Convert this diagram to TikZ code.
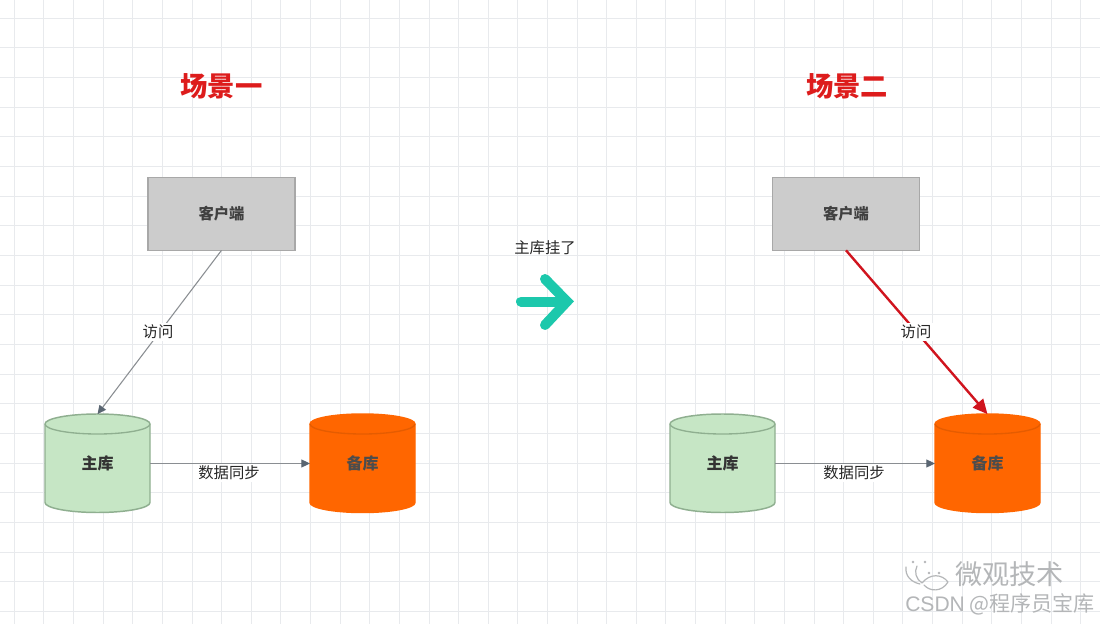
\documentclass[tikz,border=0pt]{standalone}
\usepackage{fontspec}
\setmainfont{Noto Sans CJK SC}
\newfontfamily\latinwm{Liberation Sans}
\usetikzlibrary{arrows.meta}
\definecolor{gridc}{HTML}{E8EAED}
\definecolor{boxf}{HTML}{CCCCCC}
\definecolor{boxd}{HTML}{A8A8A8}
\definecolor{grnf}{HTML}{C6E6C5}
\definecolor{grnd}{HTML}{8FAF90}
\definecolor{orgf}{HTML}{FF6600}
\definecolor{redt}{HTML}{DD1C1C}
\definecolor{redl}{HTML}{D0141E}
\definecolor{teal1}{HTML}{1CC8AC}
\definecolor{linec}{HTML}{8A8E92}
\definecolor{headc}{HTML}{5A6672}
\definecolor{wmc}{HTML}{B4B6B8}
\tikzset{
  x=0.75pt,y=-0.75pt,
  clientbox/.style={draw=boxd,fill=boxf,line width=1.1pt,minimum width=110.5pt,minimum height=54.5pt,inner sep=0pt,outer sep=0pt,font=\fontsize{11.5pt}{13pt}\selectfont\bfseries,text=black!75},
  dbnode/.style={minimum width=78.75pt,minimum height=74pt,inner sep=0pt,outer sep=0pt,font=\fontsize{12pt}{14pt}\selectfont\bfseries},
  dbmainline/.style={draw=grnd,fill=grnf,line width=1.1pt},
  dbbackline/.style={draw=orgf,fill=orgf,line width=1.1pt},
  heading/.style={font=\fontsize{20.5pt}{24pt}\selectfont\bfseries,text=redt,inner sep=0pt},
  tag/.style={fill=white,inner sep=1.5pt,font=\fontsize{11.5pt}{13pt}\selectfont,text=black!85},
  thin conn/.style={draw=linec,line width=0.8pt,-{Triangle[length=6.5pt,width=6pt,color=headc]}},
  red conn/.style={draw=redl,line width=1.8pt,-{Triangle[length=11pt,width=10pt]}},
  wm/.style={text=wmc,inner sep=0pt},
}
% #1 draw style, #2 name, #3 centre x, #4 text colour, #5 label, #6 rim colour
\newcommand{\dbcyl}[6]{%
  \draw[#1] ({#3-52.5},424) arc[start angle=180,end angle=360,x radius=52.5,y radius=10]
     -- ({#3+52.5},502.5) arc[start angle=0,end angle=180,x radius=52.5,y radius=10] -- cycle;
  \draw[draw=#6,line width=1pt] ({#3-52.5},424) arc[start angle=180,end angle=0,x radius=52.5,y radius=10];
  \node[dbnode,text=#4] (#2) at (#3,463.5) {#5};
}
\begin{document}
\begin{tikzpicture}
\useasboundingbox (0,0) rectangle (1100,624);
\fill[white] (0,0) rectangle (1100,624);
% grid
\foreach \i in {0,...,36} {\draw[gridc,line width=0.7pt] ({14.3+\i*29.62},0) -- ({14.3+\i*29.62},624);}
\foreach \i in {0,...,20} {\draw[gridc,line width=0.7pt] (0,{18+\i*29.67}) -- (1100,{18+\i*29.67});}
% headings
\node[heading] (h1) at (221.5,86) {场景一};
\node[heading] (h2) at (847,86) {场景二};
% left scene
\node[clientbox] (c1) at (221.5,214) {客户端};
\dbcyl{dbmainline}{m1}{97.5}{black!80}{主库}{grnd}
\dbcyl{dbbackline}{b1}{362.5}{black!70}{备库}{orgf!90!black}
\draw[thin conn] (c1.south) -- (m1.north);
\node[tag] (t1) at (158,332) {访问};
\draw[thin conn] (m1.east) -- (b1.west);
\node[tag] (t2) at (229,473) {数据同步};
% right scene
\node[clientbox] (c2) at (846,214) {客户端};
\dbcyl{dbmainline}{m2}{722.5}{black!80}{主库}{grnd}
\dbcyl{dbbackline}{b2}{987.5}{black!70}{备库}{orgf!90!black}
\draw[red conn] (c2.south) -- (b2.north);
\node[tag] (t3) at (916,332) {访问};
\draw[thin conn] (m2.east) -- (b2.west);
\node[tag] (t4) at (854,473) {数据同步};
% centre
\node[tag,fill=none,inner sep=0pt] (t5) at (545,248) {主库挂了};
\draw[teal1,line width=7.5pt,line cap=round] (521,301.5) -- (564,301.5);
\draw[teal1,line width=7.5pt,line cap=round,line join=miter] (545,279) -- (567,301.5) -- (545,325);
% watermark
\node[wm,anchor=west,font=\fontsize{20.4pt}{24pt}\selectfont] (w1) at (955,574) {微观技术};
\node[wm,anchor=west,font=\fontsize{15.8pt}{18pt}\selectfont] (w2) at (905,604) {{\latinwm CSDN} @程序员宝库};
\draw[wmc,line width=0.9pt,line cap=round]
  (906,567) .. controls (905,576) and (911,582) .. (920,584)
  (917,566) .. controls (914,572) and (916,579) .. (922,583)
  (922,583) .. controls (930,573) and (942,574) .. (948,582)
  (924,585) .. controls (930,592) and (942,592) .. (948,582);
\fill[wmc] (913,562) circle (1.3) (925,562) circle (1.3) (929,573) circle (1.3) (939,573) circle (1.3);
\end{tikzpicture}
\end{document}
